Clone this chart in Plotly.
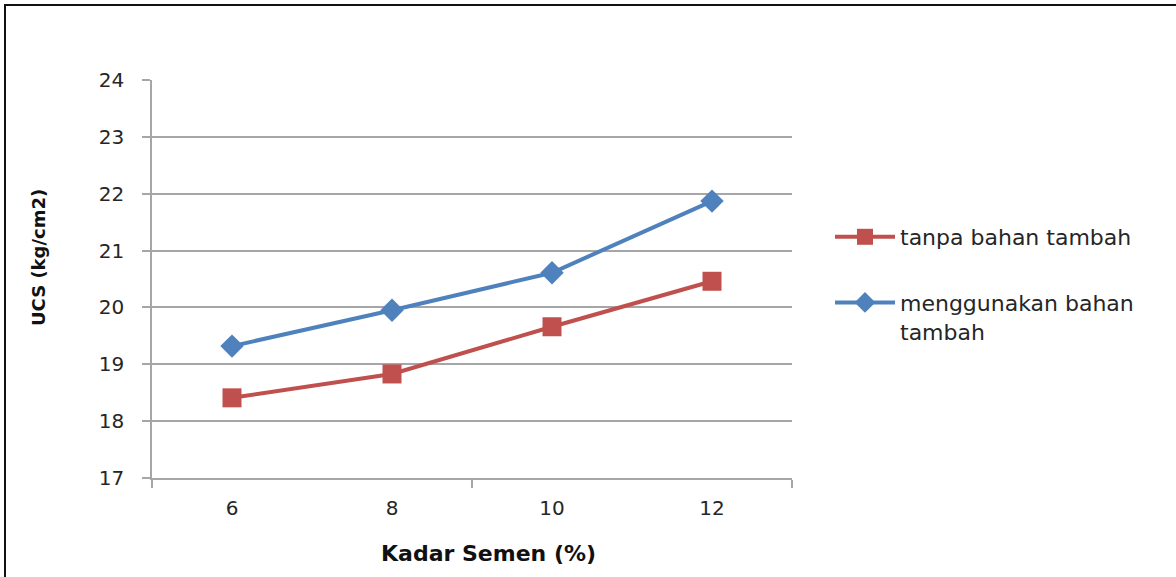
import plotly.graph_objects as go

kadar_semen = [6, 8, 10, 12]
tanpa_bahan = [18.41, 18.83, 19.66, 20.46]
menggunakan_bahan = [19.32, 19.95, 20.61, 21.87]
y_ticks = [17, 18, 19, 20, 21, 22, 23, 24]

W, H = 1176, 577
L, R, T, B = 152, 792, 80, 478


def px(xs):
    return (xs - L) / (R - L)


def py(ys):
    return 1 - (ys - T) / (B - T)


fig = go.Figure()
fig.add_trace(go.Scatter(
    x=kadar_semen, y=tanpa_bahan, mode="lines+markers",
    name="tanpa bahan tambah", legendgroup="a",
    line=dict(color="#C0504D", width=4),
    marker=dict(symbol="square", size=19, color="#C0504D"),
))
fig.add_trace(go.Scatter(
    x=kadar_semen, y=menggunakan_bahan, mode="lines+markers",
    name="menggunakan bahan<br>tambah", legendgroup="b",
    line=dict(color="#4F81BD", width=4),
    marker=dict(symbol="diamond", size=18, color="#4F81BD"),
))

font = "DejaVu Sans, sans-serif"
fig.update_layout(
    width=W, height=H,
    margin=dict(l=L, r=W - R, t=T, b=H - B),
    paper_bgcolor="white", plot_bgcolor="white",
    font=dict(family=font, size=20, color="#262626"),
    showlegend=True,
    legend=dict(
        x=px(830), xanchor="left",
        y=py(216), yanchor="top",
        font=dict(size=22, color="#262626"),
        tracegroupgap=34, itemwidth=60, valign="top",
        bgcolor="rgba(0,0,0,0)",
    ),
    xaxis=dict(
        range=[5, 13], tickvals=kadar_semen, ticktext=[str(v) for v in kadar_semen],
        ticks="outside", ticklen=8, tickcolor="rgba(0,0,0,0)",
        ticklabelstandoff=3,
        showgrid=False, zeroline=False,
        showline=True, linecolor="#a6a6a6", linewidth=1.5,
        minor=dict(tickvals=[5, 9, 13], ticks="outside", ticklen=8,
                   tickcolor="#a6a6a6", tickwidth=1.5, showgrid=False),
        tickfont=dict(size=20),
    ),
    yaxis=dict(
        range=[17, 24], tickvals=y_ticks,
        ticks="outside", ticklen=8, tickcolor="#a6a6a6", tickwidth=1.5,
        ticklabelstandoff=14,
        showgrid=True, gridcolor="#a6a6a6", gridwidth=1.5,
        zeroline=False,
        showline=True, linecolor="#a6a6a6", linewidth=1.5,
        tickfont=dict(size=20),
    ),
    annotations=[
        dict(text="<b>Kadar Semen (%)</b>", xref="paper", yref="paper",
             x=px(488), y=py(553),
             xanchor="center", yanchor="middle", showarrow=False,
             font=dict(size=22, color="#111111")),
        dict(text="<b>UCS (kg/cm2)</b>", xref="paper", yref="paper",
             x=px(38), y=py(258),
             xanchor="center", yanchor="middle", showarrow=False, textangle=-90,
             font=dict(size=18, color="#111111")),
    ],
    shapes=[
        dict(type="rect", xref="paper", yref="paper",
             x0=px(5), x1=px(1250),
             y0=py(650), y1=py(5),
             line=dict(color="#111111", width=2), fillcolor="rgba(0,0,0,0)",
             layer="above"),
    ],
)

fig.write_html("out.html", config={"displayModeBar": False},
               post_script="document.body.style.margin='0';")
